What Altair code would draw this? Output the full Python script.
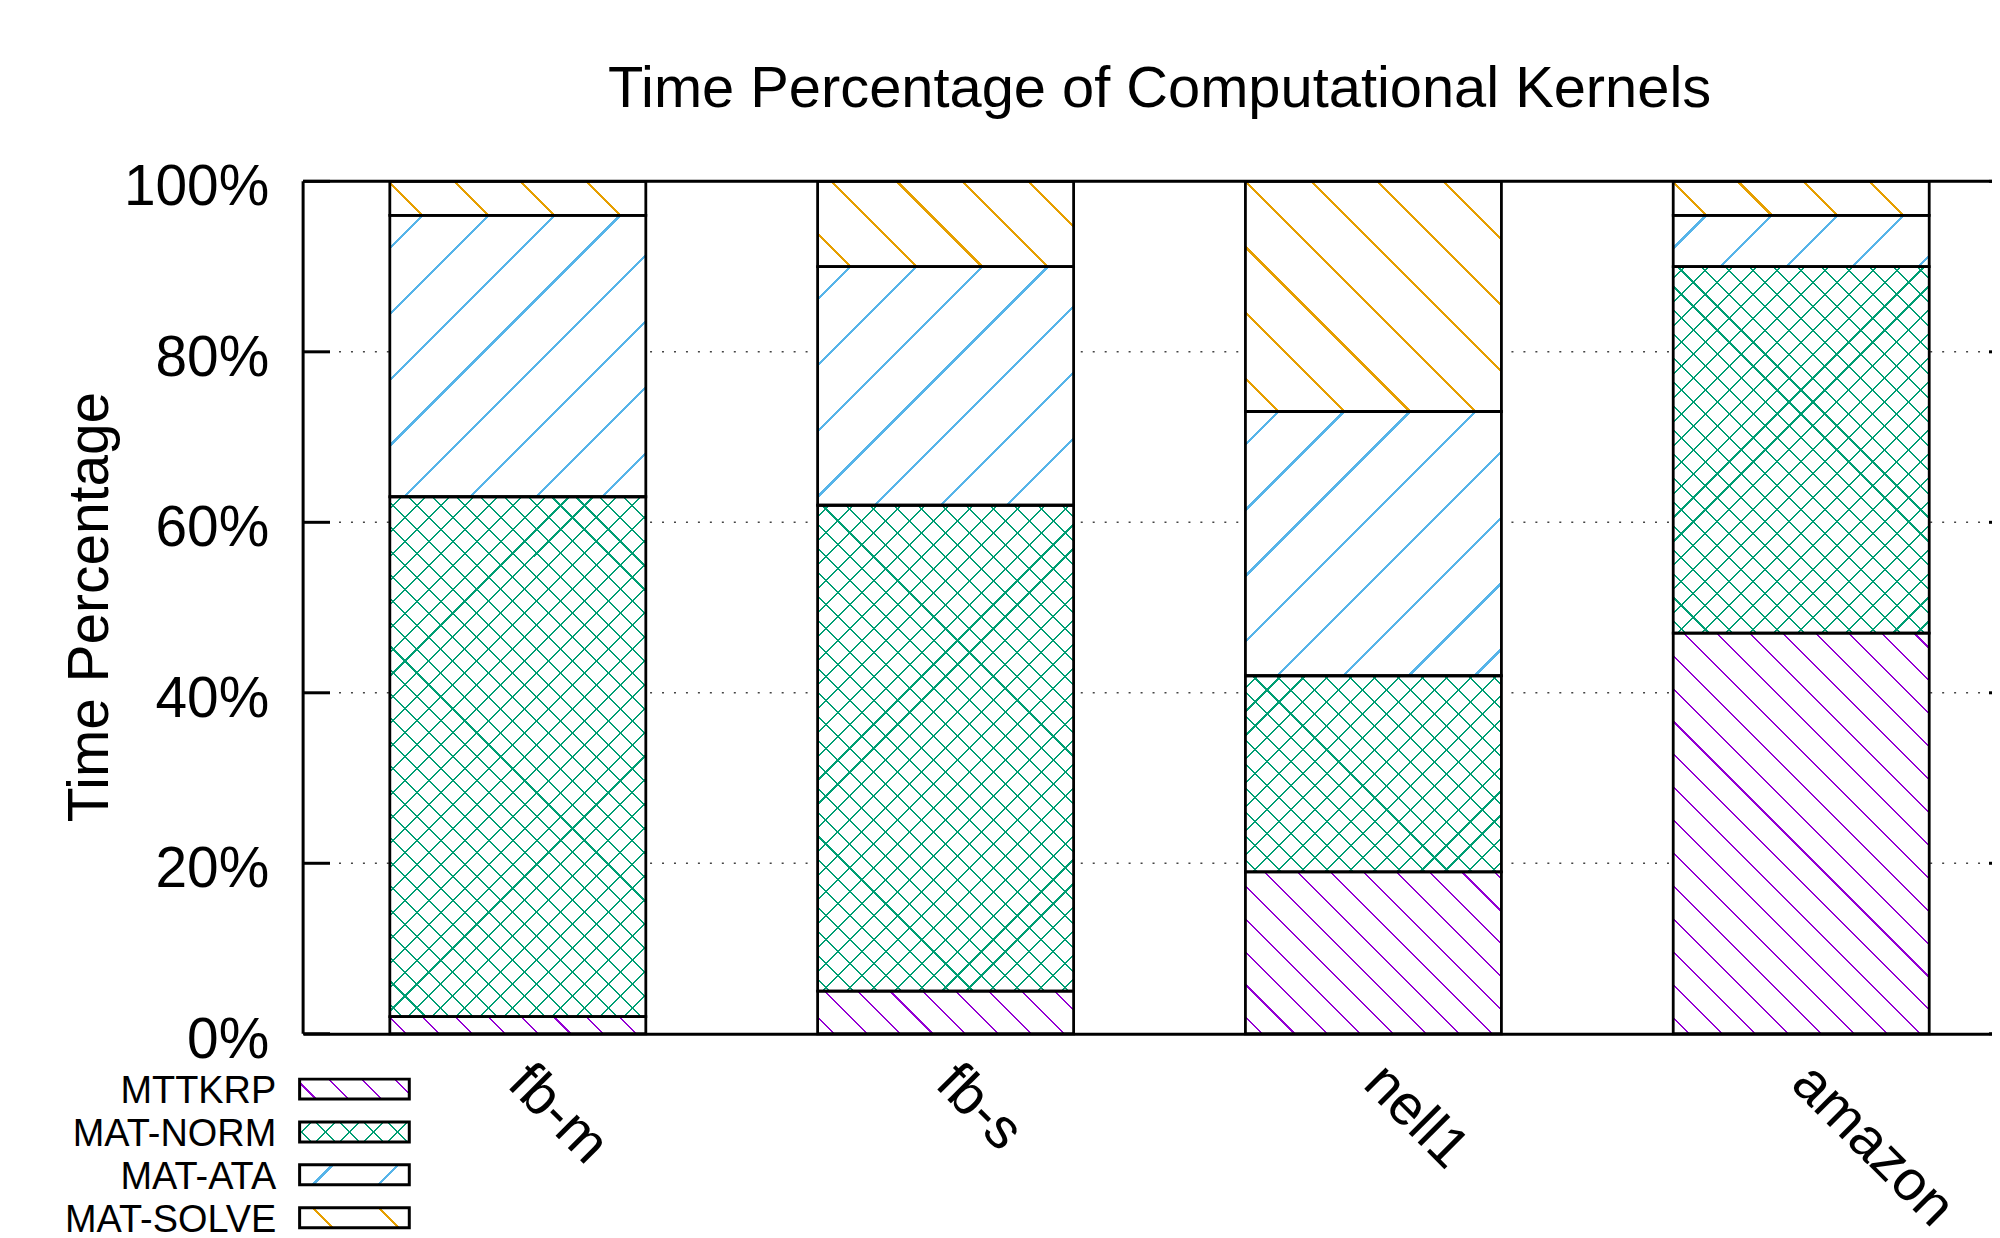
import math
import altair as alt
import pandas as pd

# ---------------- data ----------------
datasets = ["fb-m", "fb-s", "nell1", "amazon"]
kernels = ["MTTKRP", "MAT-NORM", "MAT-ATA", "MAT-SOLVE"]
mttkrp = [2, 5, 19, 47]
mat_norm = [61, 57, 23, 43]
mat_ata = [33, 28, 31, 6]
mat_solve = [4, 10, 27, 4]
y_ticks = [0, 20, 40, 60, 80, 100]
chart_title = "Time Percentage of Computational Kernels"
y_title = "Time Percentage"

series_values = {
    "MTTKRP": mttkrp,
    "MAT-NORM": mat_norm,
    "MAT-ATA": mat_ata,
    "MAT-SOLVE": mat_solve,
}

rows = []
for k_i, k in enumerate(kernels):
    for d, v in zip(datasets, series_values[k]):
        rows.append({"dataset": d, "kernel": k, "order": k_i, "value": v})
df = pd.DataFrame(rows)

# ---------------- layout / style ----------------
FONT = "Liberation Sans"
PLOT_W = 1694          # visible view width
SCALE_W = 1718         # full x range (right frame falls just off the page)
PLOT_H = 855
PAD_INNER = 0.4016
PAD_OUTER = 0.2027
STEP = SCALE_W / (len(datasets) - PAD_INNER + 2 * PAD_OUTER)
BAR_W = STEP * (1 - PAD_INNER)

styles = {
    "MTTKRP": dict(color="#9400D3", dirs=["\\"], spacing=33, lw=1.5),
    "MAT-NORM": dict(color="#009E73", dirs=["/", "\\"], spacing=24, lw=1.5),
    "MAT-ATA": dict(color="#56B4E9", dirs=["/"], spacing=66, lw=2.3),
    "MAT-SOLVE": dict(color="#E69F00", dirs=["\\"], spacing=66, lw=2.3),
}
CLEAR = "rgba(255,255,255,0)"


def hatch(w, h, direction, spacing, lw, color, phase=None):
    """Linear gradient with hard stops that draws 45-degree hatch lines."""
    L = w + h
    k = L / (w * w + h * h)
    if direction == "/":
        x1, y1, x2, y2 = 0, 0, k * w, k * h
    else:
        x1, y1, x2, y2 = 0, 1, k * w, 1 - k * h
    half = lw * math.sqrt(2) / 2
    if phase is None:
        phase = spacing * 0.5
    stops = [{"offset": 0, "color": CLEAR}]
    c = phase % spacing
    while c - half < L:
        a = round(max(0.0, (c - half) / L), 5)
        b = round(min(1.0, (c + half) / L), 5)
        stops += [
            {"offset": a, "color": CLEAR},
            {"offset": a, "color": color},
            {"offset": b, "color": color},
            {"offset": b, "color": CLEAR},
        ]
        c += spacing
    stops.append({"offset": 1, "color": CLEAR})
    return {"gradient": "linear", "x1": x1, "y1": y1,
            "x2": round(x2, 5), "y2": round(y2, 5), "stops": stops}


# ---------------- encodings ----------------
X = alt.X(
    "dataset:N",
    sort=datasets,
    scale=alt.Scale(domain=datasets, range=[0, SCALE_W],
                    paddingInner=PAD_INNER, paddingOuter=PAD_OUTER, align=0.5),
    axis=alt.Axis(title=None, labelAngle=45, labelAlign="left",
                  labelBaseline="middle", labelPadding=40, ticks=False,
                  tickSize=0, labelFontSize=57, labelFont=FONT,
                  labelColor="black", labelLimit=0, domainColor="black",
                  domainWidth=3, grid=False),
)
YSCALE = alt.Scale(domain=[0, 100], nice=False, zero=True)
Y = alt.Y("y0:Q", scale=YSCALE, axis=None)
Y2 = alt.Y2("y1:Q")
YT = alt.Y("t:Q", scale=YSCALE, axis=None)

tick_df = pd.DataFrame({"t": y_ticks})
grid_df = pd.DataFrame({"t": y_ticks[1:-1]})

layers = []

# dotted grid (beneath bars)
layers.append(
    alt.Chart(grid_df).mark_rule(color="#444444", strokeWidth=1.6,
                                 strokeDash=[2, 10]).encode(
        y=YT, x=alt.value(0), x2=alt.value(SCALE_W))
)

base = alt.Chart(df).transform_stack(
    stack="value", groupby=["dataset"],
    sort=[alt.SortField("order", order="ascending")], as_=["y0", "y1"],
)

layers.append(base.mark_bar(fill="white").encode(x=X, y=Y, y2=Y2))

for k in kernels:
    st = styles[k]
    for d, v in zip(datasets, series_values[k]):
        h = v / 100 * PLOT_H
        for direc in st["dirs"]:
            g = hatch(BAR_W, h, direc, st["spacing"], st["lw"], st["color"])
            layers.append(
                base.transform_filter(
                    (alt.datum.dataset == d) & (alt.datum.kernel == k)
                ).mark_bar(fill=g).encode(x=X, y=Y, y2=Y2)
            )

layers.append(
    base.mark_bar(fill="white", fillOpacity=0, stroke="black",
                  strokeWidth=2.8).encode(x=X, y=Y, y2=Y2)
)

# frame: left and top borders, inward ticks (left and mirrored right)
frame_df = pd.DataFrame({"t": [y_ticks[0]], "t2": [y_ticks[-1]]})
layers.append(
    alt.Chart(frame_df).mark_rule(color="black", strokeWidth=3).encode(
        x=alt.value(0), y=YT, y2="t2:Q")
)
layers.append(
    alt.Chart(pd.DataFrame({"t": [y_ticks[-1]]})).mark_rule(
        color="black", strokeWidth=3).encode(
        y=YT, x=alt.value(0), x2=alt.value(SCALE_W))
)
layers.append(
    alt.Chart(tick_df).mark_rule(color="black", strokeWidth=3).encode(
        y=YT, x=alt.value(0), x2=alt.value(27))
)
layers.append(
    alt.Chart(tick_df).mark_rule(color="black", strokeWidth=3).encode(
        y=YT, x=alt.value(SCALE_W - 27), x2=alt.value(SCALE_W))
)

# y tick labels
layers.append(
    alt.Chart(tick_df).transform_calculate(label="datum.t + '%'")
    .mark_text(align="right", baseline="middle", dy=7, fontSize=57,
               font=FONT, color="black")
    .encode(y=YT, x=alt.value(-34), text="label:N")
)

# y axis title
layers.append(
    alt.Chart(pd.DataFrame({"title": [y_title]}))
    .mark_text(angle=270, align="center", baseline="alphabetic",
               fontSize=57, font=FONT, color="black")
    .encode(x=alt.value(-196), y=alt.value(427), text="title:N")
)

# chart title
layers.append(
    alt.Chart(pd.DataFrame({"title": [chart_title]}))
    .mark_text(align="center", baseline="alphabetic", fontSize=58,
               font=FONT, color="black")
    .encode(x=alt.value(SCALE_W / 2), y=alt.value(-75), text="title:N")
)

# ---------------- legend (below the plot, left side) ----------------
LEG_X0 = -3.5          # box left, relative to plot left
LEG_W, LEG_H = 110, 20
LEG_TOP = 900.5        # first box top, relative to plot top
LEG_STEP = 43
LEG_TEXT_X = -27
for i, k in enumerate(kernels):
    st = styles[k]
    top = LEG_TOP + i * LEG_STEP
    row = pd.DataFrame({"kernel": [k]})
    box = dict(x=alt.value(LEG_X0), x2=alt.value(LEG_X0 + LEG_W),
               y=alt.value(top), y2=alt.value(top + LEG_H))
    layers.append(alt.Chart(row).mark_rect(fill="white").encode(**box))
    for direc in st["dirs"]:
        g = hatch(LEG_W, LEG_H, direc, st["spacing"], st["lw"], st["color"])
        layers.append(alt.Chart(row).mark_rect(fill=g).encode(**box))
    layers.append(
        alt.Chart(row).mark_rect(fill="white", fillOpacity=0, stroke="black",
                                 strokeWidth=3).encode(**box))
    layers.append(
        alt.Chart(row).mark_text(align="right", baseline="middle", dy=3,
                                 fontSize=38, font=FONT, color="black")
        .encode(x=alt.value(LEG_TEXT_X), y=alt.value(top + LEG_H / 2),
                text="kernel:N"))

chart = (
    alt.layer(*layers)
    .properties(
        width=PLOT_W,
        height=PLOT_H,
        autosize=alt.AutoSizeParams(type="none"),
        padding={"left": 296, "top": 172, "right": 0, "bottom": 203},
    )
    .configure_view(stroke=None)
    .configure(font=FONT, background="white")
)

chart.save("out.html", embed_options={"renderer": "svg", "actions": False})
